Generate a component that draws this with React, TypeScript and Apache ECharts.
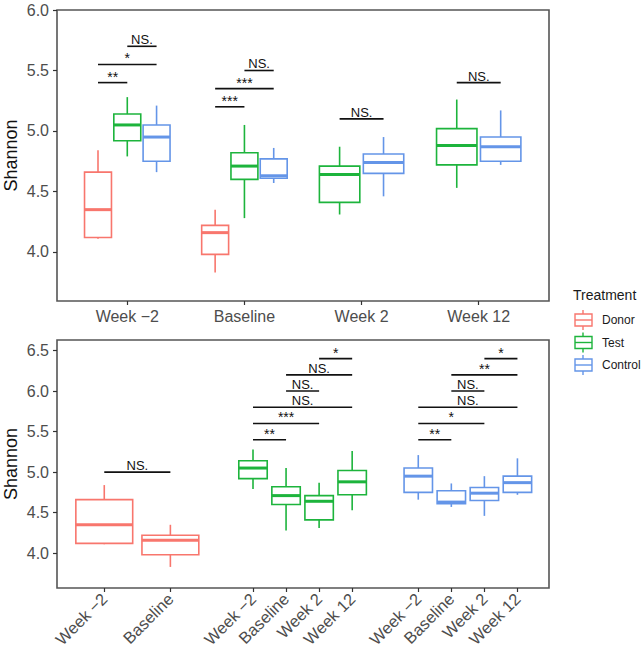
import React, { useEffect, useRef } from "react";
import * as echarts from "echarts";

const FONT = "'Liberation Sans', Arial, Helvetica, sans-serif";

const timepoints = ["Week \u22122", "Baseline", "Week 2", "Week 12"];
const treatments = ["Donor", "Test", "Control"];
const colors = ["#F8766D", "#1DB43C", "#6495E8"];

// [min, q1, median, q3, max] per timepoint (null = not sampled)
const donorStats = [
  [4.11, 4.12, 4.35, 4.66, 4.84],
  [3.83, 3.98, 4.16, 4.22, 4.35],
  null,
  null,
];
const testStats = [
  [4.79, 4.92, 5.05, 5.14, 5.28],
  [4.28, 4.6, 4.71, 4.82, 5.05],
  [4.31, 4.41, 4.64, 4.71, 4.87],
  [4.53, 4.72, 4.88, 5.02, 5.26],
];
const controlStats = [
  [4.66, 4.75, 4.95, 5.05, 5.21],
  [4.57, 4.61, 4.63, 4.77, 4.86],
  [4.46, 4.65, 4.74, 4.81, 4.95],
  [4.72, 4.75, 4.87, 4.95, 5.17],
];
const allStats = [donorStats, testStats, controlStats];

// top panel comparisons: [timepoint, treatment A, treatment B, y, label]
const topSig: [number, number, number, number, string][] = [
  [0, 0, 1, 5.4, "**"],
  [0, 0, 2, 5.55, "*"],
  [0, 1, 2, 5.7, "NS."],
  [1, 0, 1, 5.2, "***"],
  [1, 0, 2, 5.35, "***"],
  [1, 1, 2, 5.5, "NS."],
  [2, 1, 2, 5.1, "NS."],
  [3, 1, 2, 5.4, "NS."],
];

// bottom panel comparisons: [treatment, timepoint A, timepoint B, y, label]
const bottomSig: [number, number, number, number, string][] = [
  [0, 0, 1, 5.0, "NS."],
  [1, 0, 1, 5.4, "**"],
  [1, 0, 2, 5.6, "***"],
  [1, 0, 3, 5.8, "NS."],
  [1, 1, 2, 6.0, "NS."],
  [1, 1, 3, 6.2, "NS."],
  [1, 2, 3, 6.4, "*"],
  [2, 0, 1, 5.4, "**"],
  [2, 0, 2, 5.6, "*"],
  [2, 0, 3, 5.8, "NS."],
  [2, 1, 2, 6.0, "NS."],
  [2, 1, 3, 6.2, "**"],
  [2, 2, 3, 6.4, "*"],
];

const topTicks = [4.0, 4.5, 5.0, 5.5, 6.0];
const bottomTicks = [4.0, 4.5, 5.0, 5.5, 6.0, 6.5];

// ---- layout helpers (positions on the value x axes) ----
function presentTreatments(t: number) {
  const out: number[] = [];
  allStats.forEach((s, k) => {
    if (s[t]) out.push(k);
  });
  return out;
}
function topPos(t: number, k: number) {
  const present = presentTreatments(t);
  const n = present.length;
  const step = 0.75 / n;
  const j = present.indexOf(k);
  return { x: t + 1 + (j - (n - 1) / 2) * step, w: step * 0.92 };
}
function presentTimes(k: number) {
  const out: number[] = [];
  allStats[k].forEach((s, t) => {
    if (s) out.push(t);
  });
  return out;
}
function bottomPos(k: number, t: number) {
  const present = presentTimes(k);
  const n = present.length;
  const step = 4 / n;
  const j = present.indexOf(t);
  return { x: k * 5 + 1 + (j - (n - 1) / 2) * step, w: step * 0.86 };
}

const bottomLabelPos: number[] = [];
const bottomLabelTxt: string[] = [];
treatments.forEach((_, k) => {
  presentTimes(k).forEach((t) => {
    bottomLabelPos.push(bottomPos(k, t).x);
    bottomLabelTxt.push(timepoints[t]);
  });
});

function boxRender(color: string) {
  return (params: any, api: any) => {
    const x = api.value(0);
    const w = api.value(6);
    const p = (v: number) => api.coord([x, v]);
    const cx = p(api.value(3))[0];
    const hw = api.size([w, 0])[0] / 2;
    const yMin = p(api.value(1))[1];
    const yQ1 = p(api.value(2))[1];
    const yMed = p(api.value(3))[1];
    const yQ3 = p(api.value(4))[1];
    const yMax = p(api.value(5))[1];
    const ls = { stroke: color, lineWidth: 1.6, fill: "none" };
    return {
      type: "group",
      children: [
        { type: "line", shape: { x1: cx, y1: yMax, x2: cx, y2: yQ3 }, style: ls },
        { type: "line", shape: { x1: cx, y1: yQ1, x2: cx, y2: yMin }, style: ls },
        { type: "rect", shape: { x: cx - hw, y: yQ3, width: hw * 2, height: yQ1 - yQ3 }, style: ls },
        { type: "line", shape: { x1: cx - hw, y1: yMed, x2: cx + hw, y2: yMed }, style: { stroke: color, lineWidth: 3 } },
      ],
    };
  };
}

function sigRender(labels: string[]) {
  return (params: any, api: any) => {
    const a = api.coord([api.value(0), api.value(2)]);
    const b = api.coord([api.value(1), api.value(2)]);
    const label = labels[params.dataIndex];
    const isStar = label.indexOf("*") >= 0;
    return {
      type: "group",
      children: [
        { type: "line", shape: { x1: a[0], y1: a[1], x2: b[0], y2: b[1] }, style: { stroke: "#111", lineWidth: 1.6 } },
        {
          type: "text",
          x: (a[0] + b[0]) / 2,
          y: a[1] + (isStar ? 1 : 0),
          style: {
            text: label,
            fontSize: isStar ? 14 : 13,
            fontFamily: FONT,
            fill: "#111",
            align: "center",
            verticalAlign: "bottom",
          },
        },
      ],
    };
  };
}

const axisLabelStyle = { color: "#4d4d4d", fontSize: 16, fontFamily: FONT };

export default function App() {
  const ref = useRef<HTMLDivElement>(null);
  useEffect(() => {
    if (!ref.current) return;
    const chart = echarts.init(ref.current, null, { renderer: "svg" });

    const series: any[] = [];
    treatments.forEach((name, k) => {
      const topData: number[][] = [];
      const botData: number[][] = [];
      allStats[k].forEach((s, t) => {
        if (!s) return;
        const tp = topPos(t, k);
        topData.push([tp.x, ...s, tp.w]);
        const bp = bottomPos(k, t);
        botData.push([bp.x, ...s, bp.w]);
      });
      series.push({
        name,
        type: "custom",
        xAxisIndex: 0,
        yAxisIndex: 0,
        renderItem: boxRender(colors[k]),
        encode: { x: 0, y: [1, 5] },
        data: topData,
        z: 2,
      });
      series.push({
        name,
        type: "custom",
        xAxisIndex: 1,
        yAxisIndex: 1,
        renderItem: boxRender(colors[k]),
        encode: { x: 0, y: [1, 5] },
        data: botData,
        z: 2,
      });
    });

    const topSigData = topSig.map((s) => [topPos(s[0], s[1]).x, topPos(s[0], s[2]).x, s[3]]);
    const botSigData = bottomSig.map((s) => [bottomPos(s[0], s[1]).x, bottomPos(s[0], s[2]).x, s[3]]);
    series.push({
      type: "custom",
      xAxisIndex: 0,
      yAxisIndex: 0,
      renderItem: sigRender(topSig.map((s) => s[4])),
      encode: { x: [0, 1], y: 2 },
      data: topSigData,
      z: 3,
    });
    series.push({
      type: "custom",
      xAxisIndex: 1,
      yAxisIndex: 1,
      renderItem: sigRender(bottomSig.map((s) => s[4])),
      encode: { x: [0, 1], y: 2 },
      data: botSigData,
      z: 3,
    });

    const legendItems: any[] = [];
    treatments.forEach((name, k) => {
      const cy = 320 + k * 22.5;
      const c = colors[k];
      legendItems.push({
        type: "group",
        children: [
          { type: "line", shape: { x1: 583, y1: cy - 10, x2: 583, y2: cy + 10 }, style: { stroke: c, lineWidth: 1.4 } },
          { type: "rect", shape: { x: 575, y: cy - 6, width: 17, height: 12 }, style: { stroke: c, lineWidth: 1.4, fill: "#fff" } },
          { type: "line", shape: { x1: 575, y1: cy, x2: 592, y2: cy }, style: { stroke: c, lineWidth: 1.4 } },
        ],
      });
      legendItems.push({
        type: "text",
        x: 602,
        y: cy,
        style: { text: name, fontSize: 12, fontFamily: FONT, fill: "#1a1a1a", verticalAlign: "middle" },
      });
    });

    const yAxisCommon = (ticks: number[]) => ({
      type: "value",
      axisLine: { show: false, onZero: false },
      splitLine: { show: false },
      axisTick: { show: true, customValues: ticks, length: 4, lineStyle: { color: "#333", width: 1.2 } },
      axisLabel: { ...axisLabelStyle, customValues: ticks, margin: 8, formatter: (v: number) => v.toFixed(1) },
      name: "Shannon",
      nameLocation: "middle",
      nameRotate: 90,
      nameGap: 37,
      nameMoveOverlap: false,
      nameTextStyle: { fontSize: 18, color: "#111", fontFamily: FONT },
    });

    chart.setOption({
      animation: false,
      backgroundColor: "#fff",
      grid: [
        {
          left: 57, top: 10, width: 492, height: 291, show: true, borderColor: "#555", borderWidth: 1.6,
          backgroundColor: "transparent", containLabel: false, outerBoundsMode: "none",
        },
        {
          left: 57, top: 340, width: 492, height: 248, show: true, borderColor: "#555", borderWidth: 1.6,
          backgroundColor: "transparent", containLabel: false, outerBoundsMode: "none",
        },
      ],
      xAxis: [
        {
          type: "value",
          gridIndex: 0,
          min: 0.4,
          max: 4.6,
          axisLine: { show: false, onZero: false },
          splitLine: { show: false },
          axisTick: { show: true, customValues: [1, 2, 3, 4], length: 4, lineStyle: { color: "#333", width: 1.2 } },
          axisLabel: {
            ...axisLabelStyle,
            customValues: [1, 2, 3, 4],
            margin: 7,
            formatter: (v: number) => timepoints[Math.round(v) - 1] || "",
          },
        },
        {
          type: "value",
          gridIndex: 1,
          min: -1.43,
          max: 13.455,
          axisLine: { show: false, onZero: false },
          splitLine: { show: false },
          axisTick: { show: true, customValues: bottomLabelPos, length: 4, lineStyle: { color: "#333", width: 1.2 } },
          axisLabel: {
            ...axisLabelStyle,
            fontSize: 16.5,
            customValues: bottomLabelPos,
            rotate: 45,
            margin: 8,
            formatter: (v: number) => {
              const i = bottomLabelPos.findIndex((p) => Math.abs(p - v) < 1e-6);
              return i >= 0 ? bottomLabelTxt[i] : "";
            },
          },
        },
      ],
      yAxis: [
        { ...yAxisCommon(topTicks), gridIndex: 0, min: 3.595, max: 6.0 },
        { ...yAxisCommon(bottomTicks), gridIndex: 1, min: 3.57, max: 6.63 },
      ],
      graphic: [
        {
          type: "text",
          x: 573,
          y: 295,
          style: { text: "Treatment", fontSize: 14, fontFamily: FONT, fill: "#1a1a1a", verticalAlign: "middle" },
        },
        ...legendItems,
      ],
      series,
    });
    return () => chart.dispose();
  }, []);
  return (
    <div
      ref={ref}
      style={{ position: "absolute", left: 0, top: 0, width: 644, height: 654 }}
    />
  );
}
